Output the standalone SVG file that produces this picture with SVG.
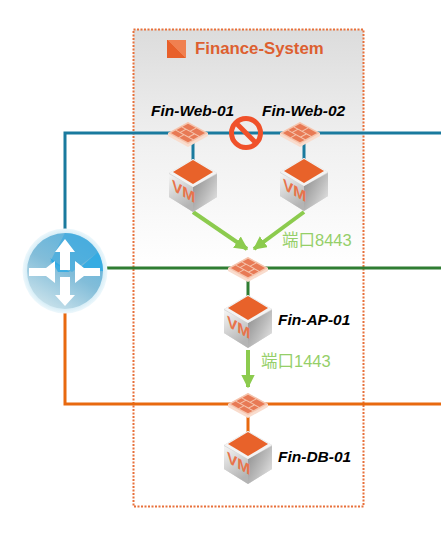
<svg xmlns="http://www.w3.org/2000/svg" width="441" height="550" viewBox="0 0 441 550">
<style>
.lbl{font-family:"Liberation Sans",Arial,sans-serif;font-weight:bold;font-style:italic;font-size:15.500px;fill:#000}
.port{font-family:"Liberation Sans","Noto Sans CJK SC",sans-serif;font-size:16.500px;fill:#95cf68}
.link{fill:none;stroke-width:3}
.flow{fill:none;stroke:#8ccb4e;stroke-width:4}
</style>
<defs>
<linearGradient id="bg" x1="0" y1="0" x2="0" y2="1"><stop offset="0" stop-color="#dcdcdc"/><stop offset="0.25" stop-color="#f1f1f1"/><stop offset="0.5" stop-color="#fff"/><stop offset="1" stop-color="#fff"/></linearGradient>
<linearGradient id="sq" x1="0" y1="1" x2="1" y2="0"><stop offset="0.5" stop-color="#e8602a"/><stop offset="0.5" stop-color="#f08050"/></linearGradient>
<linearGradient id="left" x1="0" y1="0" x2="0.4" y2="1"><stop offset="0" stop-color="#f6f6f6"/><stop offset="1" stop-color="#b4b4b4"/></linearGradient>
<linearGradient id="right" x1="0" y1="0" x2="1" y2="0.8"><stop offset="0" stop-color="#8a8a8a"/><stop offset="0.6" stop-color="#bdbdbd"/><stop offset="1" stop-color="#e4e4e4"/></linearGradient>
<linearGradient id="rt" x1="0.75" y1="0.05" x2="0.25" y2="0.95"><stop offset="0" stop-color="#5fb3dc"/><stop offset="0.5" stop-color="#82bdd9"/><stop offset="1" stop-color="#c6e0ea"/></linearGradient>
<radialGradient id="halo" cx="0.5" cy="0.5" r="0.5"><stop offset="0.85" stop-color="#cfeaf5"/><stop offset="1" stop-color="#eef8fc"/></radialGradient>
<marker id="ah" viewBox="0 0 10 10" refX="9" refY="5" markerWidth="3.4" markerHeight="3.4" orient="auto"><path d="M0 0L10 5L0 10z" fill="#8ccb4e"/></marker>
<g id="fw">
<path d="M-20 0V3L0 14L20 3V0L0-11z" fill="#f9dccd"/>
<path d="M0-11L20 0L0 11L-20 0z" fill="#f5c4ad"/>
<g transform="matrix(10 5.5 10 -5.5 0 0)" fill="#e87a55">
<rect x="-.85" y="-.85" width=".75" height=".45"/><rect x="0" y="-.85" width=".85" height=".45"/>
<rect x="-.85" y="-.3" width=".35" height=".5"/><rect x="-.4" y="-.3" width=".75" height=".5"/><rect x=".45" y="-.3" width=".4" height=".5"/>
<rect x="-.85" y=".3" width=".75" height=".55"/><rect x="0" y=".3" width=".85" height=".55"/>
</g>
</g>
<g id="vm">
<path d="M-24 13L0-1L24 13V37L0 52L-24 37z" fill="#d6d6d6"/>
<path d="M-24 14L0 27V52L-24 37z" fill="url(#left)"/>
<path d="M24 14L0 27V52L24 37z" fill="url(#right)"/>
<path d="M-24 13L0-1L24 13L0 27z" fill="#f3f3f3"/>
<path d="M-20 12L0 0L20 12L0 24z" fill="#e8622a"/>
<text transform="translate(-21 30) skewY(30)" font-family="'Liberation Sans',Arial,sans-serif" font-weight="bold" font-size="15.500" fill="#e8734a">VM</text>
</g>
</defs>
<g id="finance-system">
<rect x="133.500" y="29.500" width="230" height="477" fill="url(#bg)" stroke="#e8703a" stroke-width="2" stroke-dasharray="2 1.500"/>
<rect x="167" y="40" width="19" height="18" fill="url(#sq)"/>
<text x="195" y="54" font-family="'Liberation Sans',Arial,sans-serif" font-weight="bold" font-size="16.800px" fill="#dd5f30">Finance-System</text>
</g>
<g id="connectors">
<g stroke="#1a7a9e" class="link"><path d="M65 232V133H441M193 134V161M304 134V160"/></g>
<g stroke="#2f7d32" class="link"><path d="M104 268H441M248 268V296"/></g>
<g stroke="#e8690f" class="link"><path d="M65 308V404H441M248 404V433"/></g>
<path class="flow" marker-end="url(#ah)" d="M193 212L247 249"/>
<path class="flow" marker-end="url(#ah)" d="M304 212L254 249"/>
<path class="flow" marker-end="url(#ah)" d="M248 350V387"/>
</g>
<g id="router">
<circle cx="65" cy="271" r="42.500" fill="url(#halo)"/>
<circle cx="65" cy="271" r="38" fill="url(#rt)"/>
<path d="M65 233A38 38 0 0 1 98 252L72 272L50 262z" fill="#39a9e0" opacity=".6"/>
<path d="M98 252A38 38 0 0 1 103 271L75 272z" fill="#1fa6e6" opacity=".7"/>
<path d="M50 258L70 272L58 272z" fill="#1fa6e6" opacity=".7"/>
<path d="M65 239L75 252H70V270H60V252H55zM65 306L55 295H60V277H70V295H75zM100 268V276H84L75 283L75 272L75 261L84 268zM29 268V276H46L55 283V261L46 268z" fill="#fff"/>
</g>
<g id="fin-web-01"><use href="#fw" x="188" y="133"/><use href="#vm" x="193" y="160"/><text class="lbl" x="151" y="116">Fin-Web-01</text></g>
<g id="fin-web-02"><use href="#fw" x="300" y="133"/><use href="#vm" x="304" y="159"/><text class="lbl" x="262" y="116">Fin-Web-02</text></g>
<g id="fin-ap-01"><use href="#fw" x="248" y="268"/><use href="#vm" x="248" y="296"/><text class="lbl" x="278" y="325">Fin-AP-01</text></g>
<g id="fin-db-01"><use href="#fw" x="248" y="404"/><use href="#vm" x="248" y="432"/><text class="lbl" x="278" y="462">Fin-DB-01</text></g>
<g id="prohibit" fill="none" stroke="#f0512a" stroke-width="5"><circle cx="246" cy="133" r="14.500"/><path d="M236 123L256 143"/></g>
<text class="port" x="282" y="246">端口8443</text>
<text class="port" x="261" y="367">端口1443</text>
</svg>
